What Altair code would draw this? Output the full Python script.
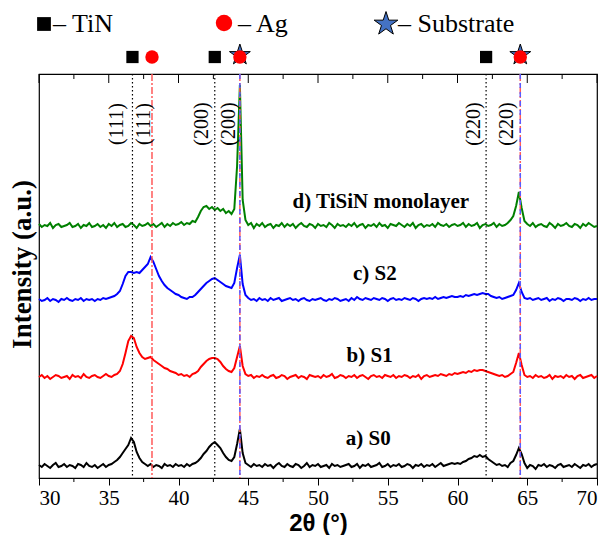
import altair as alt
import pandas as pd

# 2-theta sampling grid (degrees)
two_theta = [round(30 + 0.2 * i, 1) for i in range(201)]

series_names = ["a) S0", "b) S1", "c) S2", "d) TiSiN monolayer"]
series_colors = ["#000000", "#ff0000", "#0000ff", "#008000"]
series_offsets = [10, 99, 176, 250]

s0 = [1, -1, 2, 0, -2, 1, 3, -1, 0, 2,
      -1, 1, 0, -2, 2, 1, -1, 3, 0, -1,
      1, -2, 0, 2, -1, 1, 2, 4, 6, 9,
      13, 17, 21, 28, 24, 14, 8, 4, 2, 0,
      2, -1, 1, 0, -2, 2, 0, 1, -1, 2,
      0, 1, -1, 2, 0, 2, 3, 5, 8, 12,
      15, 19, 22, 24, 21, 18, 13, 9, 6, 5,
      9, 22, 37, 13, 3, 1, -1, 2, 0, 1,
      -1, 2, 0, 1, -2, 1, 3, 0, -1, 2,
      0, -1, 2, 1, -2, 0, 3, -1, 1, 0,
      2, -1, 0, 1, -2, 2, 0, 1, -1, 0,
      1, 2, -1, 0, 2, -2, 1, 0, 2, -1,
      0, 1, 3, -1, 0, 2, -1, 1, 0, 2,
      -1, 0, 2, 1, -2, 1, 0, 2, -1, 1,
      0, 2, -1, 1, 3, 0, 1, 2, 3, 2,
      3, 2, 4, 5, 7, 8, 10, 9, 11, 9,
      10, 7, 5, 3, 1, 2, 0, 1, -1, 3,
      5, 11, 18, 12, 3, -2, 1, 0, -3, 1,
      0, 2, -1, 1, 0, -2, 1, 2, -1, 0,
      1, -1, 2, 0, -2, 1, 0, 2, -1, 1,
      2]

s1 = [0, 2, -1, 1, -2, 0, 2, 1, -1, 0,
      1, -2, 2, 0, 1, -1, 3, 0, -1, 1,
      2, 0, -1, 1, 3, 1, 0, 2, 3, 6,
      13, 24, 36, 41, 39, 30, 24, 20, 18, 19,
      20, 17, 15, 13, 11, 9, 8, 6, 5, 4,
      2, 3, 1, 2, 0, 3, 4, 6, 10, 13,
      16, 18, 19, 19, 18, 15, 11, 8, 6, 5,
      9, 20, 31, 11, 3, 1, 2, -1, 1, 0,
      2, 0, -1, 1, 2, -1, 0, 2, 1, -2,
      0, 1, 2, -1, 1, 0, -2, 2, 1, 0,
      1, -1, 2, 0, 1, 3, -1, 0, 2, 1,
      -1, 1, 0, 2, -1, 1, 2, 0, -2, 1,
      2, 0, 1, -1, 2, 1, 0, 2, -1, 1,
      0, 2, 1, -1, 1, 0, 2, -2, 1, 2,
      0, 1, 2, 1, 3, 2, 1, 3, 2, 4,
      3, 4, 5, 4, 6, 5, 7, 6, 7, 7,
      6, 5, 4, 3, 2, 1, 2, 0, 1, 3,
      5, 14, 24, 12, 2, 0, 1, -1, 2, 0,
      1, -1, 0, 2, -2, 1, 0, 1, -1, 2,
      0, 1, -2, 1, 2, -1, 0, 1, 2, -1,
      1]

s2 = [1, -1, 0, 2, -1, 1, 0, -2, 1, 0,
      2, 0, -1, 1, 0, 2, -1, 1, 0, 1,
      -1, 1, 0, 2, 1, 2, 3, 4, 6, 9,
      16, 24, 28, 28, 27, 28, 27, 30, 33, 36,
      43, 38, 31, 24, 19, 15, 12, 10, 8, 6,
      5, 3, 2, 1, 3, 3, 5, 8, 11, 14,
      17, 19, 21, 22, 20, 18, 16, 14, 13, 12,
      17, 32, 45, 16, 5, 2, 0, 1, -1, 2,
      0, 1, -1, 2, 0, 1, 2, -1, 0, 1,
      2, 0, 1, -1, 1, 2, 0, -1, 1, 0,
      1, 2, 0, -1, 1, 0, 2, 1, -1, 0,
      1, -1, 2, 0, 3, 1, 0, 2, 1, 0,
      2, 1, 0, 2, 1, -1, 1, 2, 0, 1,
      0, 2, 1, 0, 2, 1, -1, 1, 2, 1,
      2, 1, 3, 1, 2, 3, 2, 3, 4, 3,
      3, 4, 3, 5, 4, 5, 6, 5, 6, 7,
      6, 6, 4, 3, 2, 3, 1, 2, 3, 4,
      5, 10, 17, 8, 2, 1, 2, 0, 1, 2,
      0, 1, 2, -1, 1, 0, 2, 1, -1, 1,
      1, 0, 2, 1, -1, 1, 0, 2, 0, 1,
      1]

s3 = [2, -1, 1, 0, 3, -2, 1, 2, -1, 0,
      1, 3, -1, 0, 2, -2, 1, 0, 3, -1,
      0, 2, -1, 1, -2, 2, 0, 3, -1, 1,
      2, -1, 0, 3, 1, -2, 2, 0, 1, 3,
      0, 2, -1, 1, 3, -1, 2, 0, 3, 1,
      2, 4, 1, 3, 2, 5, 4, 9, 15, 19,
      20, 17, 19, 16, 18, 15, 17, 13, 15, 12,
      17, 60, 141, 26, 6, 1, 3, -2, 2, 0,
      3, -1, 1, 2, -2, 1, 0, 3, -1, 2,
      0, 2, -2, 1, 3, 0, -1, 2, 1, -2,
      2, 0, 1, -1, 3, 1, -2, 2, 0, 1,
      -1, 2, 0, 3, -1, 1, 2, -2, 1, 0,
      2, -1, 3, 0, 1, -2, 2, 1, 0, 3,
      1, -1, 2, 0, 3, -2, 1, 2, -1, 1,
      0, 2, -1, 3, 1, 0, 2, -1, 1, 2,
      0, 1, 3, -1, 2, 0, 1, 3, -2, 1,
      2, 0, 1, 3, -1, 2, 0, 1, 3, 6,
      10, 20, 34, 18, 5, 2, 0, 3, -1, 1,
      2, 0, -1, 3, 1, -2, 2, 0, 1, 3,
      0, -1, 2, 1, -2, 2, 0, 3, 1, -1,
      0]

# reference peak positions
tin_peaks = [36.7, 42.6, 62.05]
ag_peaks = [38.1, 44.4, 64.5]
substrate_peaks = [44.4, 64.5]

hkl_labels = ["(111)", "(111)", "(200)", "(200)", "(220)", "(220)"]
hkl_pos = [35.6, 37.5, 41.7, 43.6, 61.17, 63.56]

label_x = [53.6, 53.7, 54.07, 54.5]
label_y = [31, 114, 196, 268]

major_ticks = [30, 35, 40, 45, 50, 55, 60, 65, 70]
minor_ticks = [32.5, 37.5, 42.5, 47.5, 52.5, 57.5, 62.5, 67.5]

STAR = ("M0,-1L0.225,-0.309L0.951,-0.309L0.363,0.118L0.588,0.809L0,0.382"
        "L-0.588,0.809L-0.363,0.118L-0.951,-0.309L-0.225,-0.309Z")

rows = []
for name, off, vals in zip(series_names, series_offsets, [s0, s1, s2, s3]):
    for t, v in zip(two_theta, vals):
        rows.append({"theta": t, "intensity": v + off, "series": name})
df = pd.DataFrame(rows)

H = 404
xscale = alt.Scale(domain=[30, 70], nice=False, zero=False)
yscale = alt.Scale(domain=[-2, 402], nice=False, zero=False)

serif = "Liberation Serif"
sans = "Liberation Sans"

xaxis = alt.Axis(values=major_ticks, title="2θ (°)", format="d",
                 labelFont=serif, labelFontSize=21, labelColor="black",
                 labelPadding=2, tickSize=7, tickColor="black",
                 domainColor="black", grid=False,
                 titleFont=sans, titleFontSize=24, titleFontWeight="bold",
                 titleColor="black", titlePadding=3)


def X(f):
    return alt.X(f, scale=xscale, axis=xaxis)


curves = alt.Chart(df).mark_line(strokeWidth=2).encode(
    x=X("theta:Q"),
    y=alt.Y("intensity:Q", scale=yscale,
            axis=alt.Axis(labels=False, ticks=False, domain=False, grid=False,
                          title="Intensity (a.u.)", titleFont=serif,
                          titleFontSize=27, titleFontWeight="bold",
                          titleColor="black", titlePadding=3, titleY=190)),
    color=alt.Color("series:N", scale=alt.Scale(domain=series_names, range=series_colors),
                    legend=None),
    detail="series:N",
)

tin_df = pd.DataFrame({"pos": tin_peaks})
ag_df = pd.DataFrame({"pos": ag_peaks})
sub_df = pd.DataFrame({"pos": substrate_peaks})

tin_lines = alt.Chart(tin_df).mark_rule(color="black", strokeDash=[1.5, 2.5], strokeWidth=1.2).encode(
    x=X("pos:Q"))
ag_lines = alt.Chart(ag_df).mark_rule(color="#ff5a5a", strokeDash=[7, 2, 2, 2], strokeWidth=1.5).encode(
    x=X("pos:Q"))
sub_lines = alt.Chart(sub_df).mark_rule(color="#5a5aff", strokeDash=[5, 4], strokeWidth=1.5).encode(
    x=X("pos:Q"))

tin_marks = alt.Chart(tin_df).mark_point(shape="square", filled=True, color="black", size=150, opacity=1).encode(
    x=X("pos:Q"), y=alt.value(-17))
sub_marks = alt.Chart(sub_df).mark_point(shape=STAR, filled=True, fill="#4472c4", stroke="black",
                                         strokeWidth=1, size=480, opacity=1).encode(
    x=X("pos:Q"), y=alt.value(-19))
ag_marks = alt.Chart(ag_df).mark_point(shape="circle", filled=True, color="#ff0000", size=180, opacity=1).encode(
    x=X("pos:Q"), y=alt.value(-17))

hkl_df = pd.DataFrame({"pos": hkl_pos, "label": hkl_labels})
hkl_text = alt.Chart(hkl_df).mark_text(angle=270, align="center", baseline="middle",
                                       font=serif, fontSize=20, color="black").encode(
    x=X("pos:Q"), y=alt.value(50), text="label:N")

lab_df = pd.DataFrame({"x": label_x, "y": label_y, "label": series_names})
series_text = alt.Chart(lab_df).mark_text(align="center", baseline="alphabetic", font=serif,
                                          fontSize=21, fontWeight="bold", color="black").encode(
    x=X("x:Q"), y=alt.Y("y:Q", scale=yscale), text="label:N")

maj_df = pd.DataFrame({"pos": major_ticks})
min_df = pd.DataFrame({"pos": minor_ticks})
bottom_minor = alt.Chart(min_df).mark_rule(color="black", strokeWidth=1).encode(
    x=X("pos:Q"), y=alt.value(H), y2=alt.value(H + 4))
top_major = alt.Chart(maj_df).mark_rule(color="black", strokeWidth=1).encode(
    x=X("pos:Q"), y=alt.value(0), y2=alt.value(9))
top_minor = alt.Chart(min_df).mark_rule(color="black", strokeWidth=1).encode(
    x=X("pos:Q"), y=alt.value(0), y2=alt.value(5))

# top legend (fixed pixel anchors above the frame)
one = pd.DataFrame({"k": [0]})
leg_square = alt.Chart(one).mark_point(
    shape="square", filled=True, color="black", size=190, opacity=1).encode(
    x=alt.value(5), y=alt.value(-50))
leg_circle = alt.Chart(one).mark_point(
    shape="circle", filled=True, color="#ff0000", size=270, opacity=1).encode(
    x=alt.value(185), y=alt.value(-51))
leg_star = alt.Chart(one).mark_point(
    shape=STAR, filled=True, fill="#4472c4", stroke="black", strokeWidth=1, size=620, opacity=1).encode(
    x=alt.value(347), y=alt.value(-50))


def leg_text(t, px):
    return alt.Chart(one).mark_text(
        align="left", baseline="alphabetic", font=serif, fontSize=26, color="black", text=t).encode(
        x=alt.value(px), y=alt.value(-42))


chart = alt.layer(
    curves, tin_lines, ag_lines, sub_lines, hkl_text, series_text,
    bottom_minor, top_major, top_minor,
    tin_marks, sub_marks, ag_marks,
    leg_square, leg_circle, leg_star,
    leg_text("– TiN", 14), leg_text("– Ag", 199), leg_text("– Substrate", 359),
).properties(
    width=558, height=H,
    padding={"left": 31, "top": 66, "right": 5, "bottom": 57},
    autosize=alt.AutoSizeParams(type="none"),
).configure_view(stroke="black", strokeWidth=1.2)

chart.save("out.html", embed_options={"renderer": "svg", "actions": False})
